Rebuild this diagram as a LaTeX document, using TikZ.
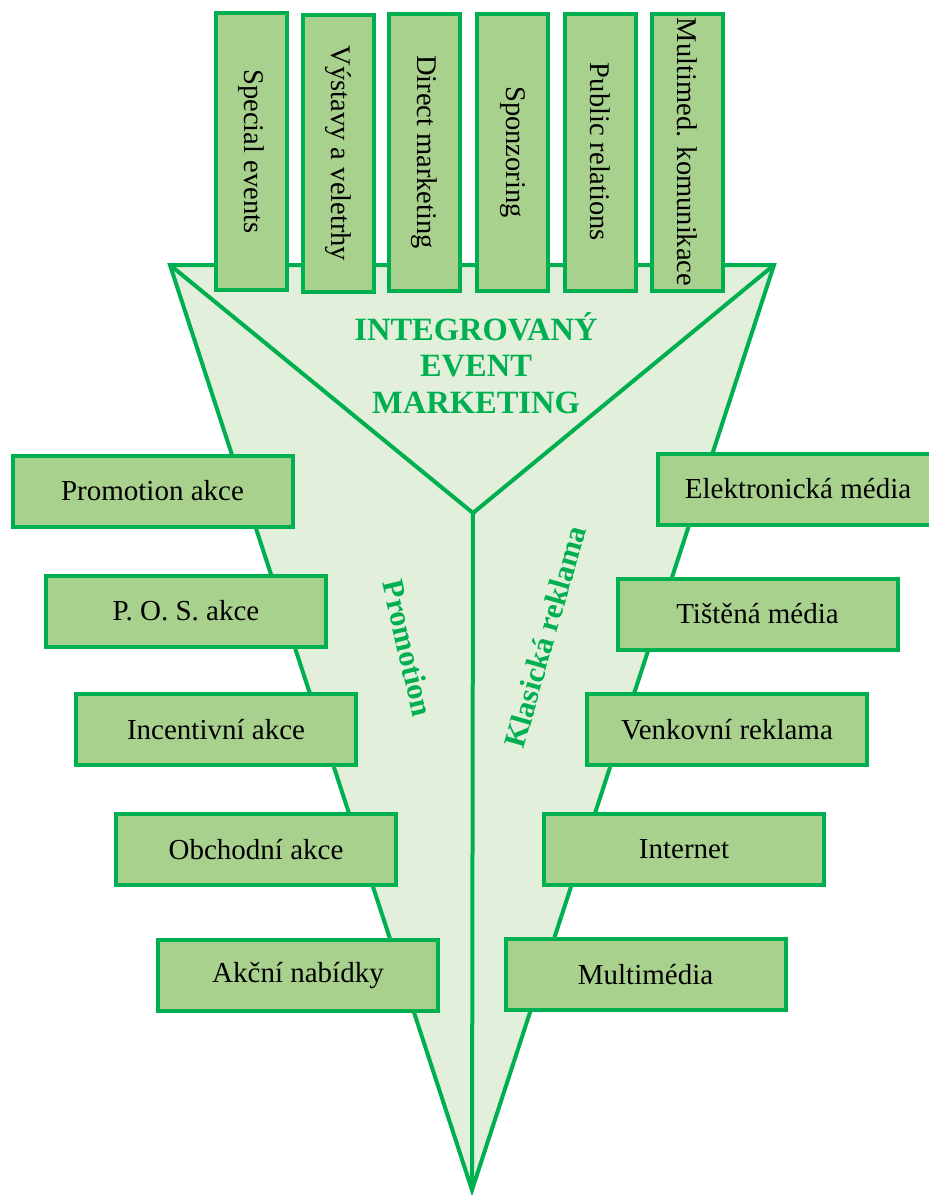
\documentclass[tikz,border=0pt]{standalone}
\usepackage{fontspec}
\setmainfont{Liberation Serif}
\definecolor{G}{HTML}{00B050}
\definecolor{Lfill}{HTML}{E2EFDA}
\definecolor{Bfill}{HTML}{A9D18E}
\tikzset{
  side/.style={draw=G, line width=4pt, fill=Bfill, minimum width=280pt, minimum height=71pt,
    inner sep=0pt, font=\fontsize{29}{34}\selectfont},
  topbox/.style={draw=G, line width=4pt, fill=Bfill, minimum width=277pt, minimum height=71pt,
    inner sep=0pt, rotate=-90, font=\fontsize{28.5}{34}\selectfont},
  funnel/.style={draw=G, line width=4pt, line join=miter},
  lbl/.style={text=G, font=\fontsize{30.5}{34}\selectfont\bfseries, inner sep=0pt},
}
\begin{document}
\begin{tikzpicture}[x=1pt,y=-1pt]
\useasboundingbox (0,0) rectangle (929,1195);
\clip (0,0) rectangle (929,1195);
% funnel
\coordinate (tl) at (170,265);
\coordinate (tr) at (774,265);
\coordinate (tip) at (472,1190);
\coordinate (v) at (473,513);
\fill[Lfill] (tl) -- (tr) -- (tip) -- cycle;
\draw[funnel] (tl) -- (tr) -- (tip) -- cycle;
\draw[funnel] (tl) -- (v) -- (tr);
\draw[funnel] (v) -- (tip);
% labels
\node[lbl, align=center, font=\fontsize{32.5}{36.5}\selectfont\bfseries] (iem) at (476,363) {INTEGROVANÝ\\EVENT\\MARKETING};
\node[lbl, rotate=-77] (prom) at (408,648) {Promotion};
\node[lbl, rotate=74] (klas) at (545,637) {Klasická reklama};
% top boxes
\node[topbox] (t1) at (251.5,151.5) {Special events};
\node[topbox] (t2) at (338,153.5) {Výstavy a veletrhy};
\node[topbox] (t3) at (424.5,152) {Direct marketing};
\node[topbox] (t4) at (512.5,152) {Sponzoring};
\node[topbox] (t5) at (600,152) {Public relations};
\node[topbox] (t6) at (687.5,152) {Multimed. komunikace};
% left boxes
\node[side] (l1) at (152.5,491) {Promotion akce};
\node[side] (l2) at (186,611) {P. O. S. akce};
\node[side] (l3) at (216,729.5) {Incentivní akce};
\node[side] (l4) at (256,849.5) {Obchodní akce};
\node[side] (l5) at (298,975.5) {Akční nabídky};
% right boxes
\node[side] (r1) at (798,489) {Elektronická média};
\node[side] (r2) at (757.5,614) {Tištěná média};
\node[side] (r3) at (727,729.5) {Venkovní reklama};
\node[side] (r4) at (684,849.5) {Internet};
\node[side] (r5) at (645.5,974.5) {Multimédia};
\end{tikzpicture}
\end{document}
